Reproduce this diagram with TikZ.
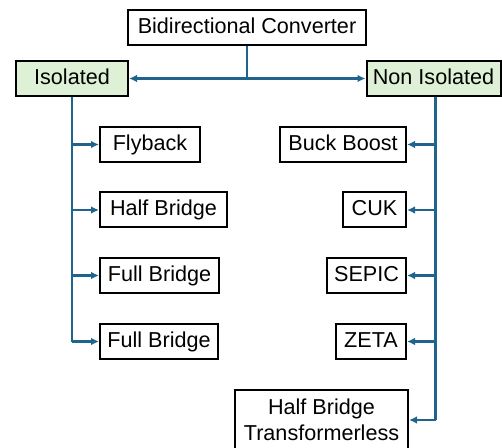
\documentclass[tikz,border=0pt]{standalone}
\usepackage{fontspec}
\setmainfont{Liberation Sans}
\usetikzlibrary{arrows.meta}
\definecolor{linkblue}{RGB}{31,100,140}
\definecolor{groupgreen}{RGB}{222,240,213}

\begin{document}
\begin{tikzpicture}[x=0.5pt, y=-0.5pt,
    box/.style={draw, line width=1pt, inner sep=0pt, minimum height=17.5pt,
      text height=7.6pt, text depth=1.9pt,
      font=\fontsize{10.8}{12.8}\selectfont},
    group/.style={box, fill=groupgreen},
    link/.style={linkblue, line width=1.1pt},
    arr/.style={link, -{Latex[length=4pt, width=3.8pt]}}]
  \useasboundingbox (0,0) rectangle (502,448);
  \node[box, minimum width=119pt] (bidir) at (247,27.5) {Bidirectional Converter};
  \node[group, minimum width=56pt] (iso) at (72,78.5) {Isolated};
  \node[group, minimum width=67pt] (noniso) at (433.5,78.5) {Non Isolated};
  % isolated branch
  \node[box, minimum width=50pt] (fly) at (150,144.5) {Flyback};
  \node[box, minimum width=63.5pt] (hb) at (163.5,210) {Half Bridge};
  \node[box, minimum width=59.5pt] (fbA) at (159.5,275.5) {Full Bridge};
  \node[box, minimum width=59pt] (fbB) at (159,341.5) {Full Bridge};
  % non isolated branch
  \node[box, minimum width=63pt] (bb) at (343,144.5) {Buck Boost};
  \node[box, minimum width=31.5pt] (cuk) at (374.5,210) {CUK};
  \node[box, minimum width=39.5pt] (sepic) at (366.5,275.5) {SEPIC};
  \node[box, minimum width=35pt] (zeta) at (371,341.5) {ZETA};
  \node[box, minimum width=86.5pt, minimum height=30pt, text height=, text depth=,
    align=center] (hbt) at (321.5,420) {Half Bridge\\Transformerless};

  \coordinate (split) at (bidir.south |- iso.east);
  \draw[link] (bidir.south) -- (split);
  \draw[arr] (split) -- (iso.east);
  \draw[arr] (split) -- (noniso.west);

  \coordinate (ltrunk) at (iso.south);
  \coordinate (rtrunk) at ([xshift=1pt]noniso.south);
  \draw[link] (ltrunk) -- (ltrunk |- fbB.west);
  \draw[link] (rtrunk) -- (rtrunk |- hbt.east);
  \foreach \n in {fly, hb, fbA, fbB}
    \draw[arr] (ltrunk |- \n.west) -- (\n.west);
  \foreach \n in {bb, cuk, sepic, zeta, hbt}
    \draw[arr] (rtrunk |- \n.east) -- (\n.east);
\end{tikzpicture}
\end{document}
